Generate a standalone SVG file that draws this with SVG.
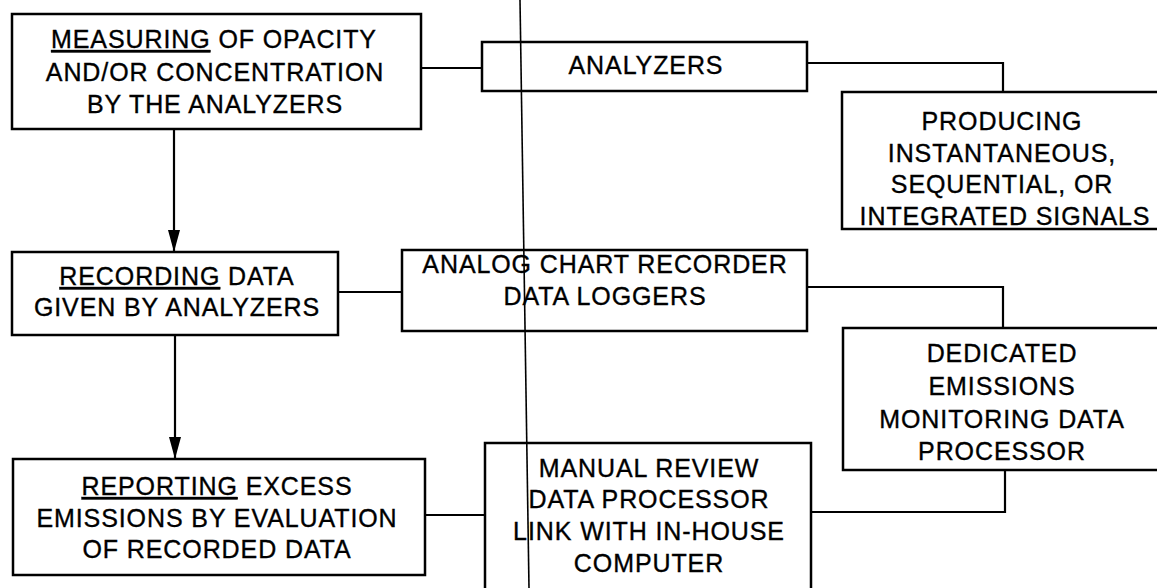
<svg xmlns="http://www.w3.org/2000/svg" width="1157" height="588" viewBox="0 0 1157 588">
<style>
.box{fill:#fff;stroke:#000;stroke-width:2.5}
.t{font-family:"Liberation Sans",Arial,sans-serif;font-size:25px;letter-spacing:0.9px;fill:#000;stroke:#000;stroke-width:0.35;text-anchor:middle}
.u{text-decoration:underline}
.c{fill:none;stroke:#000;stroke-width:2.2}
.div{fill:none;stroke:#000;stroke-width:1.6}
</style>
<defs>
<marker id="ah" markerUnits="userSpaceOnUse" markerWidth="22" markerHeight="14" refX="22" refY="7" orient="auto">
<path d="M0,1 L22,7 L0,13 z" fill="#000"/>
</marker>
</defs>
<rect width="1157" height="588" fill="#fff"/>
<g id="connectors">
<path class="c" d="M421,68 H482"/>
<path class="c" d="M807,63 H1003 V92"/>
<path class="c" d="M338,292 H402"/>
<path class="c" d="M807,287 H1003 V328"/>
<path class="c" d="M425,515 H485"/>
<path class="c" d="M1005,470 V512 H811"/>
<path class="c" d="M174,129 V252" marker-end="url(#ah)"/>
<path class="c" d="M175,335 V459" marker-end="url(#ah)"/>
</g>
<g id="measuring">
<rect class="box" x="12" y="14" width="409" height="115"/>
<text class="t" x="214" y="48"><tspan class="u">MEASURING</tspan> OF OPACITY</text>
<text class="t" x="215" y="81">AND/OR CONCENTRATION</text>
<text class="t" x="215" y="113">BY THE ANALYZERS</text>
</g>
<g id="analyzers">
<rect class="box" x="482" y="42" width="325" height="49"/>
<text class="t" x="646" y="74">ANALYZERS</text>
</g>
<g id="producing">
<rect class="box" x="842" y="92" width="330" height="137"/>
<text class="t" x="1002" y="130">PRODUCING</text>
<text class="t" x="1002" y="162">INSTANTANEOUS,</text>
<text class="t" x="1002" y="193">SEQUENTIAL, OR</text>
<text class="t" x="1005" y="225">INTEGRATED SIGNALS</text>
</g>
<g id="recording">
<rect class="box" x="12" y="252" width="326" height="83"/>
<text class="t" x="177" y="285"><tspan class="u">RECORDING</tspan> DATA</text>
<text class="t" x="177" y="316">GIVEN BY ANALYZERS</text>
</g>
<g id="analog">
<rect class="box" x="402" y="250" width="405" height="81"/>
<text class="t" x="605" y="273">ANALOG CHART RECORDER</text>
<text class="t" x="605" y="305">DATA LOGGERS</text>
</g>
<g id="dedicated">
<rect class="box" x="843" y="328" width="330" height="142"/>
<text class="t" x="1002" y="362">DEDICATED</text>
<text class="t" x="1002" y="395">EMISSIONS</text>
<text class="t" x="1002" y="428">MONITORING DATA</text>
<text class="t" x="1002" y="460">PROCESSOR</text>
</g>
<g id="reporting">
<rect class="box" x="13" y="459" width="412" height="116"/>
<text class="t" x="217" y="495"><tspan class="u">REPORTING</tspan> EXCESS</text>
<text class="t" x="217" y="527">EMISSIONS BY EVALUATION</text>
<text class="t" x="217" y="558">OF RECORDED DATA</text>
</g>
<g id="manual">
<rect class="box" x="485" y="443" width="326" height="160"/>
<text class="t" x="649" y="477">MANUAL REVIEW</text>
<text class="t" x="649" y="508">DATA PROCESSOR</text>
<text class="t" x="649" y="540">LINK WITH IN-HOUSE</text>
<text class="t" x="649" y="572">COMPUTER</text>
</g>
<g id="divider">
<path class="div" d="M520,0 L529,588"/>
</g>
</svg>
